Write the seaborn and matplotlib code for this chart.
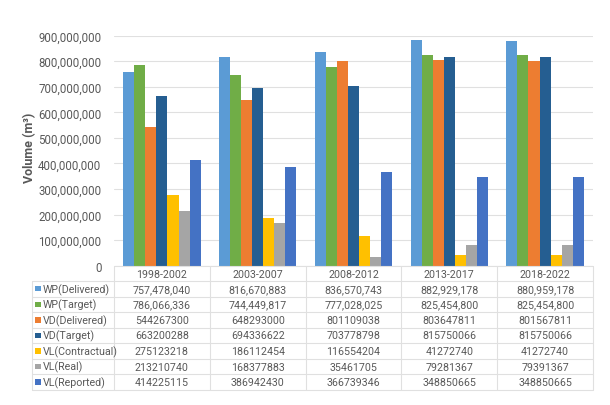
import numpy as np
import pandas as pd
import matplotlib
matplotlib.use("Agg")
import matplotlib.pyplot as plt
from matplotlib.lines import Line2D
from matplotlib.patches import Rectangle
from matplotlib.ticker import FuncFormatter
import seaborn as sns

categories = ["1998-2002", "2003-2007", "2008-2012", "2013-2017", "2018-2022"]
series_names = ["WP(Delivered)", "WP(Target)", "VD(Delivered)", "VD(Target)",
                "VL(Contractual)", "VL(Real)", "VL(Reported)"]
wp_delivered = [757478040, 816670883, 836570743, 882929178, 880959178]
wp_target = [786066336, 744449817, 777028025, 825454800, 825454800]
vd_delivered = [544267300, 648293000, 801109038, 803647811, 801567811]
vd_target = [663200288, 694336622, 703778798, 815750066, 815750066]
vl_contractual = [275123218, 186112454, 116554204, 41272740, 41272740]
vl_real = [213210740, 168377883, 35461705, 79281367, 79391367]
vl_reported = [414225115, 386942430, 366739346, 348850665, 348850665]
comma_rows = ["WP(Delivered)", "WP(Target)"]
colors = ["#5B9BD5", "#70AD47", "#ED7D31", "#255E91", "#FFC000", "#A5A5A5", "#4472C4"]

all_series = [wp_delivered, wp_target, vd_delivered, vd_target,
              vl_contractual, vl_real, vl_reported]
rows = []
for name, vals in zip(series_names, all_series):
    for c, v in zip(categories, vals):
        rows.append({"Period": c, "Series": name, "Volume": v})
df = pd.DataFrame(rows)

sns.set_theme(style="white")
plt.rcParams["font.family"] = ["Roboto", "DejaVu Sans"]
txt = "#595959"
grid = "#E0E0E0"

W, H = 610, 406
fig = plt.figure(figsize=(W / 100, H / 100), dpi=100)
ax_l, ax_r, ax_t, ax_b = 114, 593, 36.7, 266.7
ax = fig.add_axes([ax_l / W, 1 - ax_b / H, (ax_r - ax_l) / W, (ax_b - ax_t) / H])

sns.barplot(data=df, x="Period", y="Volume", hue="Series", hue_order=series_names,
            order=categories, palette=colors, width=0.81, gap=0, saturation=1,
            ax=ax, legend=False, edgecolor="none", linewidth=0)

ax.set_xlim(-0.5, len(categories) - 0.5)
ax.set_ylim(0, 900_000_000)
ax.set_yticks(np.arange(0, 900_000_001, 100_000_000))
ax.yaxis.set_major_formatter(FuncFormatter(lambda v, p: f"{int(v):,}"))
ax.tick_params(axis="y", length=0, labelsize=8.3, labelcolor=txt, pad=9)
ax.set_xticks([])
ax.set_xlabel("")
ax.set_ylabel("")
ax.grid(axis="y", color=grid, linewidth=0.8)
ax.set_axisbelow(True)
for s in ax.spines.values():
    s.set_visible(False)

fig.text(30 / W, 1 - 148 / H, "Volume (m³)", rotation=90, ha="center", va="center",
         fontsize=9, fontweight="bold", color=txt)

def fx(px):
    return px / W

def fy(py):
    return 1 - py / H

def hline(y, x0, x1):
    fig.add_artist(Line2D([fx(x0), fx(x1)], [fy(y), fy(y)], color=grid, linewidth=0.8))

def vline(x, y0, y1):
    fig.add_artist(Line2D([fx(x), fx(x)], [fy(y0), fy(y1)], color=grid, linewidth=0.8))

row_h = 15.57
header_top = 267.0
first_top = 282.0
n_rows = len(series_names)
table_bottom = first_top + row_h * n_rows
tab_left = 32

hline(header_top, ax_l, ax_r)
for i in range(n_rows + 1):
    hline(first_top + row_h * i, tab_left, ax_r)
cat_w = (ax_r - ax_l) / len(categories)
for j in range(len(categories) + 1):
    vline(ax_l + cat_w * j, header_top, table_bottom)
vline(tab_left, first_top, table_bottom)

fs = 7.7
for j, c in enumerate(categories):
    fig.text(fx(ax_l + cat_w * (j + 0.5)), fy(header_top + row_h / 2), c,
             ha="center", va="center", fontsize=fs, color=txt)

for i, (name, vals, col) in enumerate(zip(series_names, all_series, colors)):
    yc = first_top + row_h * (i + 0.5)
    fig.add_artist(Rectangle((fx(35), fy(yc + 2.7)), 5.5 / W, 5.5 / H,
                             transform=fig.transFigure, color=col, linewidth=0))
    fig.text(fx(43), fy(yc), name, ha="left", va="center", fontsize=fs, color=txt)
    for j, v in enumerate(vals):
        s = f"{v:,}" if name in comma_rows else f"{v}"
        fig.text(fx(ax_l + cat_w * (j + 0.5)), fy(yc), s,
                 ha="center", va="center", fontsize=fs, color=txt)

fig.savefig("out.png", dpi=100)
